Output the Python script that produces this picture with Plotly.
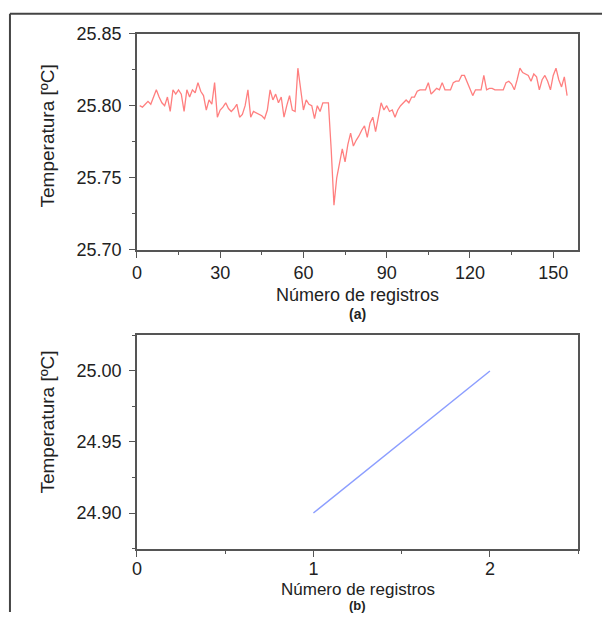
import plotly.graph_objects as go
from plotly.subplots import make_subplots

# ---- data (a) ----
registros_a = list(range(1, 156))
temp_a = [
    25.800, 25.799, 25.801, 25.803, 25.801, 25.806, 25.811, 25.806, 25.802, 25.800,
    25.806, 25.796, 25.811, 25.808, 25.811, 25.808, 25.796, 25.811, 25.806, 25.811,
    25.809, 25.816, 25.810, 25.807, 25.797, 25.804, 25.801, 25.816, 25.792, 25.797,
    25.799, 25.802, 25.798, 25.796, 25.798, 25.801, 25.792, 25.794, 25.800, 25.811,
    25.792, 25.796, 25.795, 25.794, 25.793, 25.791, 25.797, 25.811, 25.804, 25.808,
    25.802, 25.806, 25.792, 25.800, 25.807, 25.797, 25.796, 25.826, 25.812, 25.797,
    25.804, 25.801, 25.800, 25.791, 25.800, 25.796, 25.802, 25.802, 25.802, 25.770,
    25.731, 25.750, 25.761, 25.770, 25.761, 25.773, 25.781, 25.772, 25.776, 25.779,
    25.783, 25.786, 25.778, 25.788, 25.792, 25.782, 25.792, 25.802, 25.797, 25.800,
    25.796, 25.797, 25.792, 25.797, 25.800, 25.802, 25.804, 25.802, 25.806, 25.806,
    25.810, 25.811, 25.811, 25.811, 25.816, 25.808, 25.810, 25.812, 25.811, 25.816,
    25.811, 25.811, 25.811, 25.816, 25.817, 25.817, 25.821, 25.821, 25.816, 25.812,
    25.807, 25.811, 25.811, 25.811, 25.821, 25.811, 25.812, 25.812, 25.811, 25.811,
    25.811, 25.811, 25.816, 25.817, 25.815, 25.811, 25.818, 25.826, 25.823, 25.822,
    25.821, 25.817, 25.822, 25.820, 25.811, 25.818, 25.821, 25.817, 25.811, 25.821,
    25.826, 25.818, 25.813, 25.820, 25.807,
]

# ---- data (b) ----
registros_b = [1, 2]
temp_b = [24.90, 25.00]

xticks_a = [0, 30, 60, 90, 120, 150]
yticks_a = [25.70, 25.75, 25.80, 25.85]
xticks_b = [0, 1, 2]
yticks_b = [24.90, 24.95, 25.00]

W, H = 602, 622
L, R = 133, 578
def fx(px):
    return px / W
def fy(py):
    return 1 - py / H

fig = make_subplots(rows=2, cols=1)
fig.add_trace(go.Scatter(x=registros_a, y=temp_a, mode="lines",
                         line=dict(color="#ff7f7f", width=1.3), showlegend=False), row=1, col=1)
fig.add_trace(go.Scatter(x=registros_b, y=temp_b, mode="lines",
                         line=dict(color="#8c9eff", width=1.5), showlegend=False), row=2, col=1)

FONT = "Liberation Sans, Arial, sans-serif"
TXT = "#222222"
axis_common = dict(showline=True, linecolor="#555555", linewidth=1.5, mirror=True,
                   ticks="outside", ticklen=6, tickwidth=1.2, tickcolor="#555555",
                   showgrid=False, zeroline=False,
                   tickfont=dict(family=FONT, size=18, color=TXT))

fig.update_layout(
    width=W, height=H, margin=dict(l=0, r=0, t=0, b=0),
    paper_bgcolor="white", plot_bgcolor="white",
    xaxis=dict(domain=[fx(L), fx(R)], range=[0, 159], tickvals=xticks_a,
               minor=dict(dtick=15, tick0=0, ticks="outside", ticklen=3, tickcolor="#555555"),
               **axis_common),
    yaxis=dict(domain=[fy(247.8), fy(24.4)], range=[25.70, 25.85], tickvals=yticks_a,
               tickformat=".2f", ticklabelstandoff=4,
               minor=dict(dtick=0.025, tick0=25.70, ticks="outside", ticklen=3, tickcolor="#555555"),
               **axis_common),
    xaxis2=dict(domain=[fx(L), fx(R)], range=[0, 2.5], tickvals=xticks_b, ticklabelstandoff=-3,
                minor=dict(dtick=0.5, tick0=0, ticks="outside", ticklen=3, tickcolor="#555555"),
                **axis_common),
    yaxis2=dict(domain=[fy(557), fy(335.7)], range=[24.8746, 25.0254], tickvals=yticks_b,
                tickformat=".2f", ticklabelstandoff=4,
                minor=dict(dtick=0.025, tick0=24.875, ticks="outside", ticklen=3, tickcolor="#555555"),
                **axis_common),
)

ann_font = dict(family=FONT, size=18, color=TXT)
ann_font_b = dict(family=FONT, size=17, color=TXT)
ylab_font = dict(family=FONT, size=19, color=TXT)
bold_font = dict(family=FONT, size=14, color=TXT)
bold_font_b = dict(family=FONT, size=13, color=TXT)
cx = fx((L + R) / 2)
annotations = [
    dict(text="Número de registros", x=cx, y=fy(294.5), xref="paper", yref="paper",
         showarrow=False, font=ann_font, xanchor="center", yanchor="middle"),
    dict(text="<b>(a)</b>", x=cx, y=fy(314), xref="paper", yref="paper",
         showarrow=False, font=bold_font, xanchor="center", yanchor="middle"),
    dict(text="Número de registros", x=cx, y=fy(598.5), xref="paper", yref="paper",
         showarrow=False, font=ann_font_b, xanchor="center", yanchor="middle"),
    dict(text="<b>(b)</b>", x=cx, y=fy(615.5), xref="paper", yref="paper",
         showarrow=False, font=bold_font_b, xanchor="center", yanchor="middle"),
    dict(text="Temperatura [ºC]", x=fx(43), y=fy(130), xref="paper", yref="paper", textangle=-90,
         showarrow=False, font=ylab_font, xanchor="center", yanchor="middle"),
    dict(text="Temperatura [ºC]", x=fx(43), y=fy(425.6), xref="paper", yref="paper", textangle=-90,
         showarrow=False, font=ylab_font, xanchor="center", yanchor="middle"),
]
fig.update_layout(annotations=annotations)

# outer frame (top and left edges)
fig.add_shape(type="line", xref="paper", yref="paper", x0=fx(5), x1=1, y0=fy(4), y1=fy(4),
              line=dict(color="#444444", width=2))
fig.add_shape(type="line", xref="paper", yref="paper", x0=fx(5), x1=fx(5), y0=fy(4), y1=0,
              line=dict(color="#444444", width=2))

# make the figure fill the window exactly (no default body margin), no modebar
fig.write_html("out.html",
               config={"displayModeBar": False},
               post_script="document.body.style.margin='0';"
                           "document.documentElement.style.overflow='hidden';"
                           "document.body.style.overflow='hidden';")
